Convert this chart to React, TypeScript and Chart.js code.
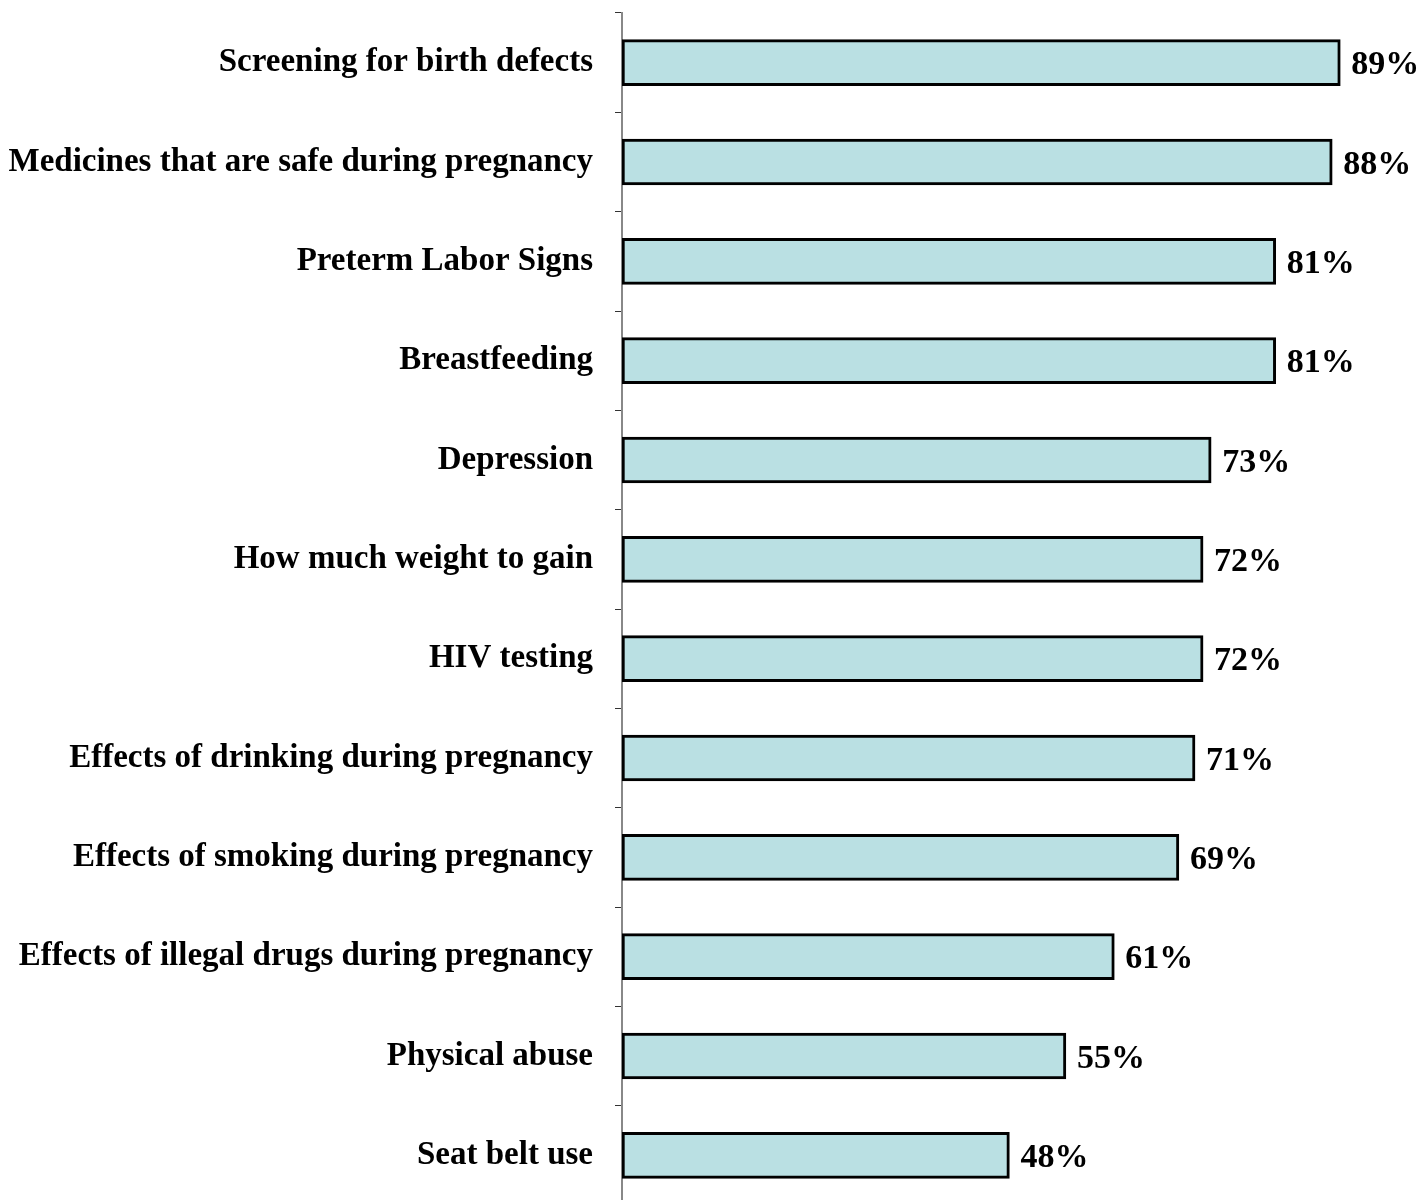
import React, { useEffect, useRef } from "react";
import { Chart, registerables } from "chart.js";

Chart.register(...registerables);

const categories = [
  "Screening for birth defects",
  "Medicines that are safe during pregnancy",
  "Preterm Labor Signs",
  "Breastfeeding",
  "Depression",
  "How much weight to gain",
  "HIV testing",
  "Effects of drinking during pregnancy",
  "Effects of smoking during pregnancy",
  "Effects of illegal drugs during pregnancy",
  "Physical abuse",
  "Seat belt use",
];

const values = [89, 88, 81, 81, 73, 72, 72, 71, 69, 61, 55, 48];

const FONT = "'Liberation Serif', 'Times New Roman', serif";

const valueLabels = {
  id: "valueLabels",
  afterDatasetsDraw(chart: any) {
    const ctx = chart.ctx;
    const meta = chart.getDatasetMeta(0);
    ctx.save();
    ctx.font = `bold 34px ${FONT}`;
    ctx.fillStyle = "#000";
    ctx.textAlign = "left";
    ctx.textBaseline = "middle";
    meta.data.forEach((bar: any, i: number) => {
      ctx.fillText(`${values[i]}%`, bar.x + 11, bar.y + 3);
    });
    ctx.restore();
  },
};

export default function App() {
  const ref = useRef<HTMLCanvasElement>(null);
  useEffect(() => {
    if (!ref.current) return;
    const chart = new Chart(ref.current, {
      type: "bar",
      data: {
        labels: categories,
        datasets: [
          {
            data: values,
            backgroundColor: "#BAE0E3",
            borderColor: "#000000",
            borderWidth: 3,
            borderSkipped: false,
            barThickness: 46,
          },
        ],
      },
      options: {
        indexAxis: "y",
        animation: false,
        responsive: false,
        maintainAspectRatio: false,
        layout: { padding: { top: 13, right: 2, left: 0, bottom: 0 } },
        plugins: { legend: { display: false }, tooltip: { enabled: false } },
        scales: {
          x: {
            display: false,
            min: 0,
            max: 99,
          },
          y: {
            offset: true,
            grid: {
              offset: true,
              drawOnChartArea: false,
              tickLength: 7,
              color: "#333333",
              lineWidth: 1,
            },
            border: { display: true, color: "#888888", width: 2 },
            ticks: {
              padding: 22,
              color: "#000",
              font: { family: FONT, size: 33, weight: "bold" },
            },
            afterFit: (s: any) => {
              s.width = 622;
              s.paddingTop = 0;
              s.paddingBottom = 0;
            },
          },
        },
      },
      plugins: [valueLabels],
    });
    return () => chart.destroy();
  }, []);
  return (
    <div
      style={{
        position: "absolute",
        left: 0,
        top: 0,
        width: 1423,
        height: 1200,
        overflow: "hidden",
        background: "#fff",
      }}
    >
      <canvas ref={ref} width={1423} height={1205} />
    </div>
  );
}
